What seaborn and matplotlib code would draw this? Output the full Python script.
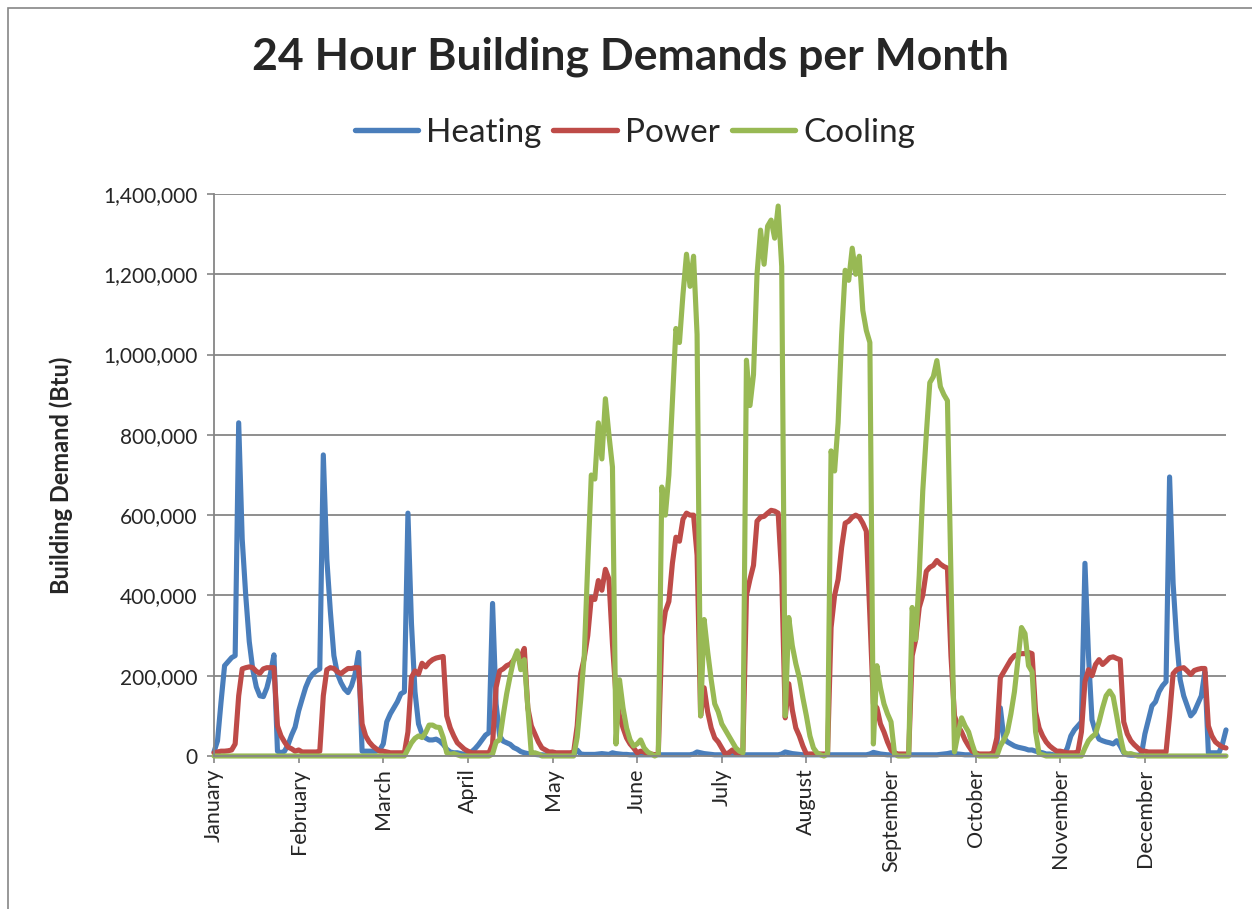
import matplotlib
matplotlib.use("Agg")
import matplotlib.pyplot as plt
import matplotlib.ticker as mticker
from matplotlib.lines import Line2D
from matplotlib.patches import Rectangle
import numpy as np
import pandas as pd
import seaborn as sns

months = ["January", "February", "March", "April", "May", "June", "July",
          "August", "September", "October", "November", "December"]
series_names = ["Heating", "Power", "Cooling"]
colors = ["#4A7EBB", "#BE4B48", "#98B954"]

# hourly values (thousands of Btu), one row of 24 hours per month
heating_k = [
    10, 38, 135, 225, 235, 245, 250, 830, 540, 400, 285, 215, 172, 150, 148, 170, 205, 252, 12, 8, 12, 28, 52, 72,
    112, 142, 171, 192, 204, 212, 217, 750, 490, 360, 250, 205, 183, 167, 158, 175, 204, 258, 12, 12, 12, 12, 12, 15,
    30, 85, 105, 120, 135, 155, 160, 605, 330, 160, 80, 55, 45, 40, 40, 42, 37, 29, 17, 10, 8, 8, 6, 4,
    6, 10, 18, 28, 40, 52, 58, 380, 130, 50, 37, 33, 29, 21, 17, 11, 8, 6, 5, 4, 3, 3, 2, 2,
    3, 3, 3, 3, 3, 3, 3, 15, 5, 4, 4, 4, 4, 5, 6, 5, 4, 8, 6, 5, 4, 4, 3, 3,
    3, 3, 3, 3, 3, 3, 3, 3, 3, 3, 3, 3, 3, 3, 3, 3, 5, 10, 8, 6, 5, 4, 3, 3,
    3, 3, 3, 3, 3, 3, 3, 3, 3, 3, 3, 3, 3, 3, 3, 3, 3, 5, 10, 8, 6, 5, 4, 3,
    3, 3, 3, 3, 3, 3, 3, 3, 3, 3, 3, 3, 3, 3, 3, 3, 3, 3, 5, 9, 7, 5, 4, 3,
    3, 3, 3, 3, 3, 3, 3, 3, 3, 3, 3, 3, 3, 3, 4, 5, 6, 8, 6, 5, 4, 3, 3, 3,
    3, 3, 3, 3, 3, 3, 30, 120, 45, 35, 30, 25, 22, 20, 18, 15, 15, 12, 10, 8, 5, 5, 3, 3,
    3, 3, 20, 50, 65, 75, 85, 480, 250, 90, 60, 42, 38, 35, 33, 30, 38, 25, 8, 3, 2, 2, 2, 3,
    55, 90, 125, 135, 160, 175, 185, 695, 430, 290, 190, 150, 125, 100, 110, 130, 150, 210, 8, 8, 8, 8, 30, 65,
]

power_k = [
    8, 10, 12, 12, 13, 15, 30, 150, 217, 220, 222, 220, 211, 206, 217, 220, 220, 220, 75, 50, 35, 22, 18, 12,
    15, 10, 10, 10, 10, 10, 12, 150, 215, 220, 218, 210, 205, 212, 218, 218, 220, 220, 80, 50, 35, 25, 18, 12,
    12, 10, 8, 8, 8, 8, 8, 60, 196, 212, 204, 231, 222, 233, 240, 244, 246, 248, 100, 70, 50, 33, 25, 17,
    12, 8, 8, 8, 8, 8, 8, 30, 171, 212, 217, 225, 229, 239, 250, 246, 268, 120, 75, 55, 35, 20, 15, 10,
    10, 8, 8, 8, 8, 8, 10, 75, 205, 244, 300, 395, 390, 437, 413, 465, 441, 280, 150, 100, 70, 45, 30, 20,
    8, 12, 10, 5, 5, 3, 5, 300, 360, 385, 480, 545, 535, 590, 605, 600, 600, 500, 100, 170, 110, 70, 45, 35,
    20, 5, 8, 15, 8, 5, 15, 400, 440, 475, 585, 595, 597, 605, 612, 610, 605, 450, 95, 180, 115, 70, 50, 25,
    5, 5, 5, 5, 5, 5, 5, 320, 400, 440, 520, 580, 585, 595, 600, 595, 580, 560, 350, 130, 120, 80, 60, 35,
    15, 8, 5, 5, 5, 5, 250, 290, 370, 400, 460, 470, 475, 487, 478, 472, 468, 250, 100, 75, 60, 40, 25, 12,
    8, 5, 5, 5, 5, 8, 45, 195, 210, 225, 240, 250, 253, 255, 255, 258, 255, 110, 70, 50, 35, 25, 18, 12,
    12, 10, 8, 8, 8, 10, 60, 185, 215, 200, 228, 240, 228, 236, 245, 247, 243, 240, 85, 55, 38, 28, 20, 12,
    12, 10, 10, 10, 10, 10, 10, 100, 205, 215, 218, 220, 212, 203, 213, 216, 218, 218, 75, 50, 35, 28, 22, 20,
]

cooling_k = [
    0, 0, 0, 0, 0, 0, 0, 0, 0, 0, 0, 0, 0, 0, 0, 0, 0, 0, 0, 0, 0, 0, 0, 0,
    0, 0, 0, 0, 0, 0, 0, 0, 0, 0, 0, 0, 0, 0, 0, 0, 0, 0, 0, 0, 0, 0, 0, 0,
    0, 0, 0, 0, 0, 0, 0, 17, 33, 44, 50, 46, 58, 77, 77, 72, 71, 46, 8, 4, 6, 3, 0, 0,
    0, 0, 0, 0, 0, 0, 0, 5, 35, 40, 100, 155, 200, 240, 262, 215, 240, 120, 5, 8, 5, 0, 0, 0,
    0, 0, 0, 0, 0, 0, 0, 47, 141, 250, 480, 700, 690, 830, 740, 890, 800, 720, 30, 190, 120, 70, 40, 25,
    30, 40, 20, 10, 5, 0, 5, 670, 600, 700, 880, 1065, 1030, 1150, 1250, 1170, 1245, 1050, 100, 340, 260, 190, 130, 110,
    80, 65, 50, 35, 20, 12, 8, 986, 873, 950, 1200, 1310, 1225, 1320, 1335, 1290, 1370, 1220, 100, 345, 275, 230, 195, 145,
    100, 50, 20, 8, 3, 0, 5, 760, 710, 830, 1050, 1210, 1185, 1265, 1200, 1245, 1110, 1060, 1030, 30, 225, 170, 130, 105,
    85, 5, 0, 0, 0, 0, 370, 290, 450, 660, 800, 930, 945, 985, 920, 900, 885, 450, 10, 55, 95, 75, 60, 30,
    4, 0, 0, 0, 0, 0, 0, 25, 40, 60, 105, 160, 240, 320, 305, 225, 210, 60, 5, 3, 0, 0, 0, 0,
    0, 0, 0, 0, 0, 0, 0, 20, 38, 48, 55, 85, 120, 150, 162, 148, 100, 50, 10, 5, 6, 3, 0, 0,
    0, 0, 0, 0, 0, 0, 0, 0, 0, 0, 0, 0, 0, 0, 0, 0, 0, 0, 0, 0, 0, 0, 0, 0,
]

hours = list(range(len(heating_k)))
df = pd.DataFrame({
    "hour": hours * 3,
    "value": [v * 1000 for v in heating_k + power_k + cooling_k],
    "series": ["Heating"] * len(hours) + ["Power"] * len(hours) + ["Cooling"] * len(hours),
})

sns.set_style("white")
plt.rcParams["font.family"] = ["Lato", "DejaVu Sans"]

W, H = 1252, 909
fig = plt.figure(figsize=(W / 100, H / 100), dpi=100)
fig.patch.set_facecolor("white")
L, R, T, B = 214, 1226, 194, 756
ax = fig.add_axes([L / W, 1 - B / H, (R - L) / W, (B - T) / H])

sns.lineplot(data=df, x="hour", y="value", hue="series", hue_order=series_names,
             palette=colors, linewidth=3.7, ax=ax, legend=False)
for ln in ax.lines:
    ln.set_solid_joinstyle("round")
    ln.set_solid_capstyle("round")
    ln.set_clip_on(False)

ax.set_xlim(0, len(hours) - 1)
ax.set_ylim(0, 1400000)
ax.yaxis.set_major_locator(mticker.MultipleLocator(200000))
ax.yaxis.set_major_formatter(mticker.FuncFormatter(lambda v, p: f"{int(v):,}"))
ax.set_xticks(list(range(0, len(hours), 24)))
ax.set_xticklabels(months, rotation=90, fontsize=15.5)
ax.tick_params(axis="y", labelsize=15, length=5, width=1.2, color="#868686", direction="out", left=True, pad=7)
ax.tick_params(axis="x", length=5, width=1.2, color="#868686", direction="out", bottom=True, pad=4)
ax.grid(axis="y", color="#868686", linewidth=1.3)
ax.set_axisbelow(True)
for s in ["top", "right"]:
    ax.spines[s].set_visible(False)
for s in ["left", "bottom"]:
    ax.spines[s].set_color("#868686")
    ax.spines[s].set_linewidth(1.3)
ax.set_xlabel("")
ax.set_ylabel("Building Demand (Btu)", fontsize=17, fontweight="bold")
ax.yaxis.set_label_coords(-0.139, 0.5)

fig.text(630 / W, 1 - 57 / H, "24 Hour Building Demands per Month",
         ha="center", va="center", fontsize=32, fontweight="bold")

handles = [Line2D([0], [0], color=c, linewidth=3.9, solid_capstyle="round") for c in colors]
fig.legend(handles, series_names, loc="center", bbox_to_anchor=(635 / W, 1 - 133 / H),
           ncol=3, frameon=False, fontsize=24, handlelength=1.9, handletextpad=0.25,
           columnspacing=0.35)

fig.patches.append(Rectangle((8 / W, -0.01), 1.0, 1 - 8 / H + 0.01, transform=fig.transFigure,
                             fill=False, edgecolor="#868686", linewidth=1.2))

fig.savefig("out.png", dpi=100, facecolor="white")
